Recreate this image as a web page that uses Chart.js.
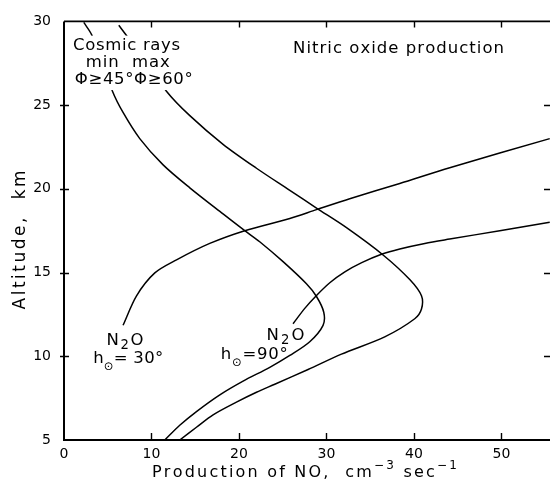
<!DOCTYPE html>
<html><head><meta charset="utf-8">
<script src="https://cdn.jsdelivr.net/npm/chart.js@4.4.1/dist/chart.umd.min.js"></script>
<style>html,body{margin:0;padding:0;background:#fff}#wrap{width:550px;height:488px}</style>
</head><body><div id="wrap"><canvas id="c" width="550" height="488"></canvas></div>
<script>
// ---- data ----
const xTicks = [0, 10, 20, 30, 40, 50];
const yTicks = [5, 10, 15, 20, 25, 30];

// Cosmic rays, min, PHI >= 45 deg
const cosMinX = [2.26, 3.18, 5.54, 6.75, 8.66, 11.33, 14.38, 18.18, 20.66, 22.37, 25.04, 27.71, 28.86, 29.69, 29.61, 28.09, 25.81, 23.52, 20.47, 17.81, 15.14, 13.23, 11.52];
const cosMinY = [29.94, 29.18, 25.83, 24.56, 23.0, 21.43, 20.06, 18.50, 17.50, 16.84, 15.65, 14.33, 13.57, 12.63, 11.85, 10.87, 10.05, 9.34, 8.52, 7.70, 6.70, 5.88, 5.0];

// Cosmic rays, max, PHI >= 60 deg
const cosMaxX = [6.26, 7.14, 11.71, 14.38, 18.18, 22.0, 25.81, 28.86, 32.29, 36.47, 39.52, 40.86, 40.86, 40.09, 36.66, 31.71, 27.90, 24.09, 22.0, 19.71, 17.04, 15.14, 13.23];
const cosMaxY = [29.77, 29.16, 25.83, 24.37, 22.66, 21.23, 19.91, 18.85, 17.68, 16.05, 14.58, 13.61, 12.82, 12.24, 11.16, 10.13, 9.21, 8.33, 7.85, 7.26, 6.50, 5.76, 5.0];

// N2O, h = 30 deg
const n2o30X = [6.75, 8.29, 10.38, 12.86, 16.66, 20.66, 25.81, 28.86, 32.66, 38.38, 44.09, 55.52];
const n2o30Y = [11.85, 13.61, 14.98, 15.76, 16.74, 17.50, 18.23, 18.76, 19.41, 20.32, 21.26, 23.0];

// N2O, h = 90 deg
const n2o90X = [26.18, 27.52, 28.86, 30.38, 32.10, 34.03, 36.29, 38.38, 41.24, 44.09, 49.81, 55.52];
const n2o90Y = [11.94, 12.86, 13.63, 14.39, 15.04, 15.59, 16.09, 16.41, 16.74, 17.0, 17.50, 18.01];

const zip = (xs, ys) => xs.map((x, i) => ({x: x, y: ys[i]}));

// ---- text helper ----
const FONT = '"DejaVu Sans", "Liberation Sans", sans-serif';
function richWidth(ctx, segs, size) {
  let w = 0, n = 0;
  segs.forEach(s => {
    ctx.font = (size * s[1]).toFixed(2) + 'px ' + FONT;
    for (const ch of s[0]) { w += ctx.measureText(ch).width; n++; }
  });
  return {w, n};
}
function drawRich(ctx, segs, x, y, size, target) {
  const m = richWidth(ctx, segs, size);
  const sp = target ? (target - m.w) / Math.max(1, m.n - 1) : 0;
  let cx = x;
  ctx.fillStyle = '#000';
  ctx.textAlign = 'left';
  ctx.textBaseline = 'alphabetic';
  segs.forEach(s => {
    ctx.font = (size * s[1]).toFixed(2) + 'px ' + FONT;
    for (const ch of s[0]) {
      ctx.fillText(ch, cx, y + s[2] * size);
      cx += ctx.measureText(ch).width + sp;
    }
  });
}

const frame = {
  id: 'frame',
  afterDatasetsDraw(chart) {
    const ctx = chart.ctx, a = chart.chartArea;
    const xs = chart.scales.x, ys = chart.scales.y;
    const px = v => xs.getPixelForValue(v), py = v => ys.getPixelForValue(v);
    ctx.save();
    ctx.strokeStyle = '#000';
    // axes lines
    ctx.lineWidth = 2;
    ctx.beginPath();
    ctx.moveTo(a.left, a.top); ctx.lineTo(a.left, a.bottom); ctx.lineTo(a.right, a.bottom);
    ctx.stroke();
    ctx.lineWidth = 1.6;
    ctx.beginPath(); ctx.moveTo(a.left, a.top); ctx.lineTo(a.right, a.top); ctx.stroke();
    // inward ticks
    ctx.lineWidth = 1.4;
    ctx.beginPath();
    xTicks.slice(1).forEach(v => {
      const X = Math.round(px(v)) + 0.5;
      ctx.moveTo(X, a.bottom); ctx.lineTo(X, a.bottom - 7);
      ctx.moveTo(X, a.top); ctx.lineTo(X, a.top + 6);
    });
    yTicks.slice(1, -1).forEach(v => {
      const Y = Math.round(py(v)) + 0.5;
      ctx.moveTo(a.left - 4, Y); ctx.lineTo(a.left + 5, Y);
      ctx.moveTo(a.right, Y); ctx.lineTo(a.right - 6, Y);
    });
    ctx.stroke();

    // Cosmic rays label block with white background
    const bx = px(0.9), bx2 = px(15.0), by = py(29.15), by2 = py(25.9);
    ctx.fillStyle = '#fff';
    ctx.fillRect(bx, by, bx2 - bx, by2 - by);
    drawRich(ctx, [['Cosmic rays', 1, 0]], px(1.04), py(28.27), 16.5, 107);
    drawRich(ctx, [['min  max', 1, 0]], px(2.49), py(27.30), 16.5, 84);
    drawRich(ctx, [['Φ≥45°Φ≥60°', 1, 0]], px(1.23), py(26.24), 16.5, 118);

    drawRich(ctx, [['Nitric oxide production', 1, 0]], px(26.18), py(28.12), 16.5, 211);

    drawRich(ctx, [['N', 1, 0], ['2', 0.8, 0.28], ['O', 1, 0]], px(4.86), py(10.69), 16.5, 37);
    drawRich(ctx, [['h', 1, 0], ['⊙', 0.7, 0.38], ['= 30°', 1, 0]], px(3.33), py(9.58), 16.5, 70);
    drawRich(ctx, [['N', 1, 0], ['2', 0.8, 0.28], ['O', 1, 0]], px(23.14), py(10.99), 16.5, 38);
    drawRich(ctx, [['h', 1, 0], ['⊙', 0.7, 0.38], ['=90°', 1, 0]], px(17.92), py(9.81), 16.5, 67);

    // x axis title
    drawRich(ctx, [['Production of NO,  cm', 1, 0], ['−3', 0.75, -0.5], [' sec', 1, 0], ['−1', 0.75, -0.5]],
      a.left + 88, a.bottom + 37, 16, 305);
    // y axis title (rotated)
    ctx.save();
    ctx.translate(a.left - 39, py(12.8));
    ctx.rotate(-Math.PI / 2);
    drawRich(ctx, [['Altitude,  km', 1, 0]], 0, 0, 17, 139);
    ctx.restore();
    ctx.restore();
  }
};

const lineStyle = {borderColor: '#000', borderWidth: 1.5, pointRadius: 0, showLine: true, fill: false, tension: 0.3};

new Chart(document.getElementById('c'), {
  type: 'scatter',
  data: {
    datasets: [
      Object.assign({label: 'Cosmic rays min Φ≥45°', data: zip(cosMinX, cosMinY)}, lineStyle),
      Object.assign({label: 'Cosmic rays max Φ≥60°', data: zip(cosMaxX, cosMaxY)}, lineStyle),
      Object.assign({label: 'N2O h=30°', data: zip(n2o30X, n2o30Y)}, lineStyle),
      Object.assign({label: 'N2O h=90°', data: zip(n2o90X, n2o90Y)}, lineStyle)
    ]
  },
  options: {
    responsive: false,
    animation: false,
    devicePixelRatio: 1,
    layout: {padding: {left: 0, top: 14, right: 0, bottom: 0}},
    plugins: {legend: {display: false}, tooltip: {enabled: false}},
    scales: {
      x: {
        type: 'linear', min: 0, max: 55.55,
        afterBuildTicks: s => { s.ticks = xTicks.map(v => ({value: v})); },
        afterFit: s => { s.height = 48; },
        grid: {display: false, drawTicks: false},
        border: {display: false},
        ticks: {color: '#000', padding: 6, maxRotation: 0, autoSkip: false, font: {family: FONT, size: 14}}
      },
      y: {
        type: 'linear', min: 5, max: 30,
        afterBuildTicks: s => { s.ticks = yTicks.map(v => ({value: v})); },
        afterFit: s => { s.width = 64; },
        grid: {display: false, drawTicks: false},
        border: {display: false},
        ticks: {color: '#000', padding: 13, autoSkip: false, font: {family: FONT, size: 14}}
      }
    }
  },
  plugins: [frame]
});
</script>
</body></html>
